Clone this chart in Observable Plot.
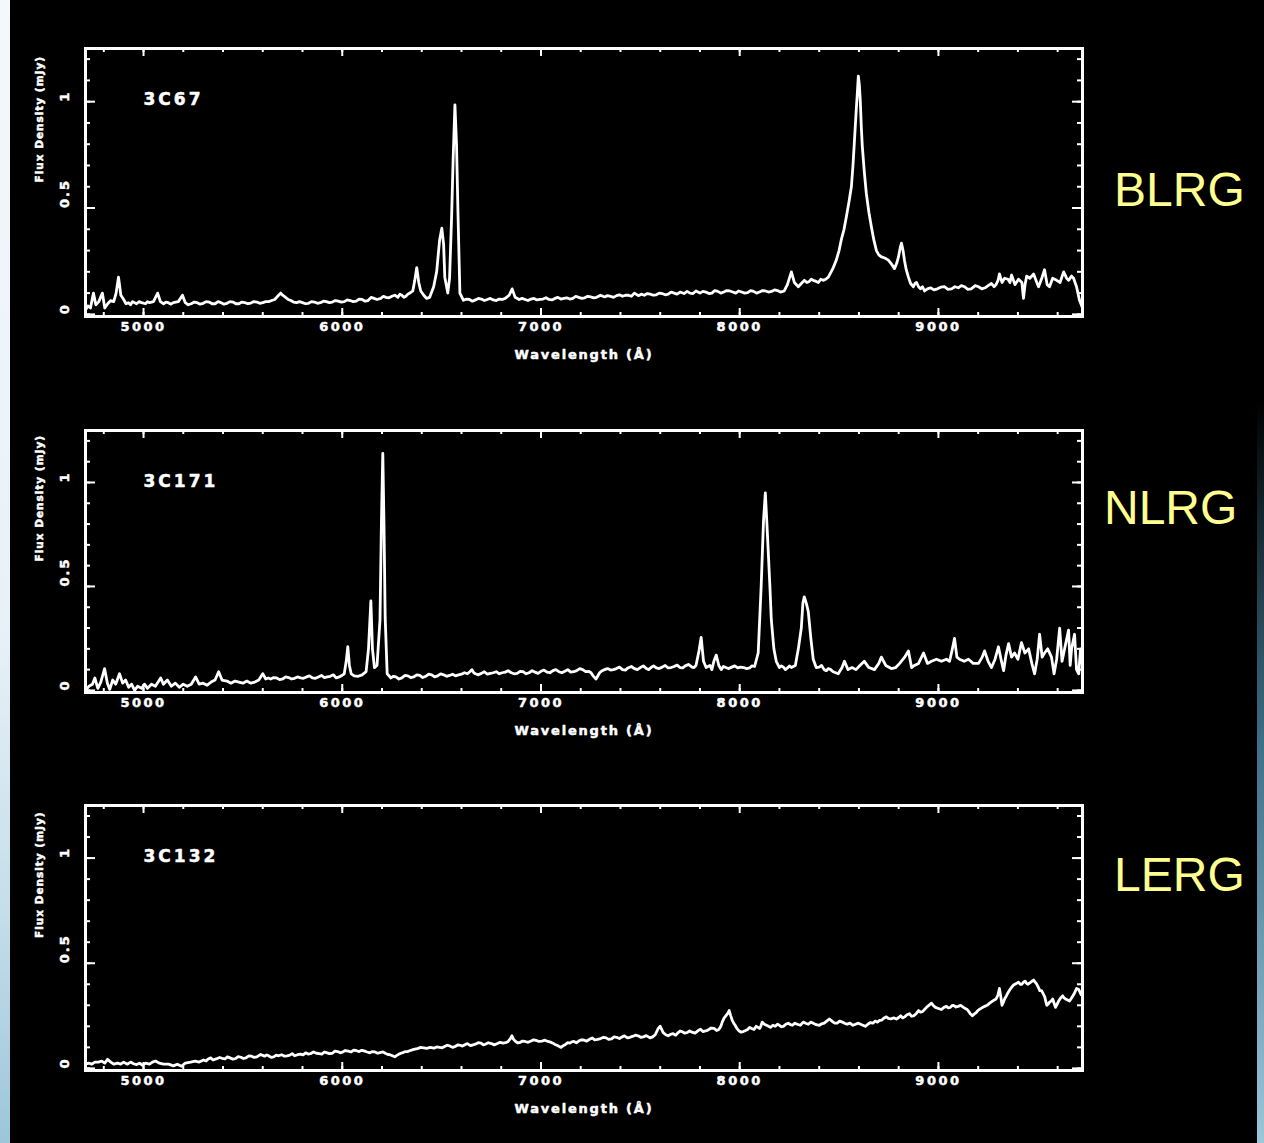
<!DOCTYPE html>
<html>
<head>
<meta charset="utf-8">
<script src="https://cdn.jsdelivr.net/npm/d3@7"></script>
<script src="https://cdn.jsdelivr.net/npm/@observablehq/plot@0.6"></script>
<style>
  html, body { margin: 0; padding: 0; background: #000; }
  body { width: 1264px; height: 1143px; position: relative; overflow: hidden; font-family: "DejaVu Sans", sans-serif; }
  #stripL { position: absolute; left: 0; top: 0; width: 10px; height: 1143px;
    background: linear-gradient(to bottom, #f4f8fc 0%, #e8f1f7 55%, #c4deea 80%, #9cc6da 100%); }
  #stripR { position: absolute; right: 0; top: 0; width: 7px; height: 1143px;
    background: linear-gradient(to bottom, #000 0%, #000 35%, #3d6f86 65%, #9cc6da 100%); }
  .panel { position: absolute; left: 0; }
  .cls { position: absolute; color: #ffff8f; font-family: "Liberation Sans", Arial, sans-serif;
    font-size: 48px; line-height: 48px; white-space: nowrap; }
</style>
</head>
<body>
<div id="stripL"></div>
<div id="stripR"></div>
<div id="root"></div>
<script>
// ---------------- data ----------------
const panelNames = ["3C67", "3C171", "3C132"];
const classLabels = ["BLRG", "NLRG", "LERG"];
const xLabel = "Wavelength (Å)";
const yLabel = "Flux Density (mJy)";
const xMajorTicks = [5000, 6000, 7000, 8000, 9000];
const xTickLabels = ["5000", "6000", "7000", "8000", "9000"];
const xMinorTicks = [4800, 5000, 5200, 5400, 5600, 5800, 6000, 6200, 6400, 6600, 6800, 7000, 7200, 7400, 7600, 7800, 8000, 8200, 8400, 8600, 8800, 9000, 9200, 9400, 9600];
const yMajorTicks = [0, 0.5, 1];
const yTickLabels = ["0", "0.5", "1"];
const yMinorTicks = [0, 0.1, 0.2, 0.3, 0.4, 0.5, 0.6, 0.7, 0.8, 0.9, 1.0, 1.1, 1.2];
const xDomain = [4708, 9725];
const yDomain = [-0.01, 1.25];

// 3C67 (BLRG): [wavelength Å, flux density mJy]
const spec3C67 = [[4708,0.02],[4720,0.04],[4733,0.03],[4748,0.10],[4760,0.045],[4775,0.06],[4793,0.10],[4805,0.03],[4820,0.05],[4834,0.065],[4850,0.06],[4862,0.10],[4874,0.175],[4886,0.09],[4900,0.07],[4912,0.05],[4924,0.055],[4935,0.045],[4945,0.06],[4965,0.05],[4978,0.06],[4990,0.055],[5010,0.05],[5020,0.06],[5030,0.055],[5050,0.06],[5071,0.10],[5085,0.06],[5101,0.05],[5113,0.058],[5125,0.055],[5138,0.048],[5150,0.055],[5175,0.06],[5196,0.09],[5210,0.055],[5225,0.045],[5240,0.05],[5255,0.058],[5270,0.055],[5285,0.048],[5300,0.052],[5315,0.06],[5330,0.058],[5345,0.05],[5360,0.05],[5375,0.06],[5390,0.055],[5405,0.048],[5420,0.052],[5435,0.06],[5450,0.058],[5465,0.05],[5480,0.05],[5495,0.058],[5510,0.055],[5525,0.05],[5540,0.053],[5555,0.06],[5570,0.058],[5585,0.052],[5600,0.055],[5615,0.06],[5630,0.06],[5645,0.065],[5660,0.07],[5675,0.085],[5690,0.10],[5700,0.09],[5715,0.08],[5728,0.07],[5741,0.065],[5755,0.058],[5770,0.055],[5785,0.06],[5800,0.055],[5815,0.05],[5830,0.052],[5845,0.06],[5860,0.058],[5875,0.052],[5890,0.055],[5905,0.062],[5920,0.06],[5935,0.055],[5950,0.058],[5965,0.065],[5980,0.062],[5995,0.058],[6010,0.06],[6025,0.068],[6040,0.065],[6055,0.06],[6070,0.062],[6085,0.072],[6100,0.07],[6115,0.062],[6130,0.065],[6145,0.08],[6160,0.075],[6175,0.07],[6194,0.075],[6207,0.085],[6220,0.08],[6235,0.078],[6250,0.085],[6265,0.09],[6280,0.08],[6290,0.095],[6300,0.09],[6310,0.08],[6320,0.085],[6330,0.095],[6340,0.10],[6355,0.11],[6365,0.16],[6375,0.22],[6385,0.15],[6395,0.11],[6410,0.09],[6425,0.075],[6440,0.08],[6460,0.13],[6475,0.2],[6490,0.35],[6501,0.405],[6510,0.33],[6516,0.175],[6531,0.10],[6540,0.17],[6550,0.45],[6558,0.73],[6567,0.985],[6575,0.8],[6582,0.49],[6592,0.10],[6610,0.066],[6625,0.072],[6640,0.07],[6655,0.062],[6670,0.068],[6685,0.075],[6700,0.072],[6715,0.065],[6730,0.07],[6745,0.075],[6760,0.068],[6775,0.065],[6790,0.072],[6805,0.07],[6820,0.075],[6840,0.09],[6855,0.12],[6870,0.08],[6890,0.07],[6905,0.075],[6920,0.07],[6935,0.065],[6950,0.072],[6965,0.075],[6980,0.068],[6995,0.07],[7010,0.072],[7025,0.078],[7040,0.07],[7055,0.068],[7070,0.075],[7085,0.08],[7100,0.072],[7115,0.075],[7130,0.078],[7145,0.072],[7160,0.075],[7175,0.085],[7190,0.08],[7205,0.075],[7220,0.078],[7235,0.085],[7250,0.082],[7265,0.078],[7280,0.08],[7300,0.09],[7320,0.082],[7335,0.088],[7350,0.085],[7365,0.08],[7380,0.088],[7395,0.092],[7410,0.085],[7425,0.09],[7440,0.09],[7455,0.085],[7470,0.1],[7490,0.088],[7505,0.095],[7520,0.09],[7535,0.098],[7550,0.095],[7565,0.09],[7580,0.092],[7595,0.1],[7610,0.098],[7625,0.092],[7640,0.095],[7655,0.105],[7670,0.1],[7685,0.095],[7700,0.105],[7720,0.098],[7735,0.108],[7750,0.1],[7765,0.098],[7780,0.11],[7800,0.1],[7815,0.108],[7830,0.105],[7845,0.098],[7860,0.1],[7875,0.112],[7890,0.108],[7905,0.1],[7920,0.105],[7935,0.112],[7950,0.11],[7965,0.105],[7980,0.1],[7995,0.11],[8010,0.105],[8025,0.1],[8040,0.102],[8055,0.112],[8070,0.108],[8085,0.1],[8100,0.105],[8115,0.112],[8130,0.11],[8145,0.105],[8160,0.108],[8175,0.115],[8190,0.112],[8205,0.105],[8224,0.11],[8240,0.14],[8260,0.20],[8275,0.15],[8295,0.13],[8310,0.145],[8325,0.16],[8338,0.15],[8350,0.155],[8360,0.165],[8370,0.16],[8385,0.155],[8396,0.15],[8408,0.165],[8420,0.16],[8433,0.165],[8446,0.175],[8460,0.2],[8471,0.22],[8486,0.255],[8500,0.3],[8511,0.35],[8525,0.4],[8537,0.46],[8550,0.53],[8562,0.60],[8570,0.7],[8577,0.81],[8587,0.97],[8592,1.04],[8597,1.12],[8602,1.08],[8607,1.0],[8612,0.88],[8617,0.79],[8627,0.67],[8637,0.57],[8650,0.48],[8663,0.41],[8675,0.35],[8688,0.30],[8700,0.28],[8713,0.27],[8730,0.265],[8748,0.255],[8765,0.235],[8779,0.215],[8790,0.24],[8799,0.27],[8807,0.31],[8814,0.335],[8822,0.3],[8829,0.255],[8838,0.21],[8849,0.175],[8860,0.145],[8874,0.13],[8882,0.145],[8890,0.15],[8900,0.13],[8910,0.12],[8920,0.13],[8930,0.11],[8945,0.12],[8960,0.125],[8978,0.115],[8995,0.12],[9012,0.128],[9030,0.13],[9048,0.118],[9066,0.12],[9083,0.13],[9100,0.125],[9115,0.135],[9131,0.13],[9148,0.118],[9165,0.12],[9185,0.135],[9202,0.13],[9218,0.12],[9235,0.125],[9250,0.135],[9267,0.145],[9280,0.13],[9290,0.14],[9300,0.16],[9307,0.19],[9320,0.15],[9333,0.17],[9350,0.165],[9360,0.15],[9368,0.185],[9385,0.14],[9403,0.165],[9420,0.15],[9428,0.075],[9436,0.14],[9444,0.18],[9460,0.17],[9479,0.19],[9495,0.15],[9504,0.13],[9520,0.17],[9534,0.21],[9547,0.14],[9559,0.13],[9575,0.17],[9595,0.16],[9612,0.15],[9630,0.20],[9645,0.17],[9655,0.16],[9670,0.18],[9680,0.17],[9695,0.13],[9710,0.066],[9725,0.03]];

// 3C171 (NLRG)
const spec3C171 = [[4708,0.0],[4725,0.02],[4743,0.03],[4755,0.06],[4770,0.01],[4785,0.04],[4804,0.105],[4818,0.035],[4830,0.005],[4845,0.05],[4860,0.03],[4879,0.08],[4895,0.035],[4910,0.05],[4925,0.015],[4940,0.03],[4955,0.0],[4970,0.02],[4990,0.01],[5005,0.03],[5020,0.01],[5040,0.03],[5060,0.02],[5086,0.06],[5100,0.03],[5120,0.05],[5140,0.02],[5160,0.035],[5180,0.015],[5200,0.03],[5220,0.02],[5240,0.03],[5262,0.065],[5280,0.03],[5300,0.035],[5320,0.025],[5340,0.04],[5360,0.05],[5378,0.09],[5395,0.05],[5420,0.045],[5440,0.035],[5460,0.045],[5480,0.04],[5500,0.035],[5520,0.045],[5540,0.035],[5560,0.04],[5580,0.05],[5600,0.08],[5615,0.055],[5628,0.06],[5640,0.055],[5655,0.062],[5670,0.06],[5685,0.052],[5700,0.055],[5715,0.065],[5730,0.062],[5745,0.055],[5760,0.058],[5775,0.065],[5790,0.06],[5805,0.058],[5820,0.065],[5835,0.07],[5850,0.06],[5865,0.058],[5880,0.065],[5895,0.072],[5910,0.062],[5925,0.065],[5940,0.068],[5955,0.075],[5970,0.06],[5985,0.065],[5995,0.07],[6010,0.08],[6020,0.14],[6028,0.21],[6036,0.12],[6045,0.08],[6060,0.07],[6080,0.068],[6100,0.075],[6120,0.09],[6132,0.2],[6144,0.43],[6152,0.2],[6162,0.11],[6175,0.12],[6190,0.34],[6197,0.8],[6204,1.14],[6210,0.8],[6216,0.35],[6226,0.08],[6245,0.06],[6258,0.068],[6270,0.065],[6285,0.055],[6300,0.06],[6315,0.072],[6330,0.07],[6345,0.062],[6360,0.065],[6375,0.075],[6390,0.072],[6405,0.062],[6420,0.068],[6435,0.078],[6450,0.075],[6465,0.065],[6480,0.07],[6495,0.08],[6510,0.075],[6525,0.068],[6540,0.072],[6555,0.078],[6570,0.07],[6585,0.075],[6600,0.078],[6615,0.085],[6630,0.08],[6642,0.09],[6652,0.10],[6662,0.085],[6670,0.08],[6685,0.075],[6700,0.082],[6715,0.09],[6730,0.078],[6745,0.082],[6760,0.085],[6775,0.09],[6790,0.08],[6805,0.085],[6820,0.088],[6835,0.095],[6850,0.085],[6865,0.08],[6880,0.082],[6895,0.092],[6910,0.09],[6925,0.08],[6940,0.085],[6955,0.095],[6970,0.088],[6985,0.082],[7000,0.092],[7015,0.098],[7030,0.088],[7045,0.085],[7060,0.095],[7075,0.1],[7090,0.09],[7105,0.085],[7120,0.092],[7135,0.1],[7150,0.088],[7165,0.09],[7180,0.095],[7195,0.105],[7210,0.1],[7225,0.09],[7240,0.092],[7252,0.085],[7262,0.07],[7277,0.055],[7295,0.085],[7308,0.095],[7320,0.1],[7335,0.105],[7350,0.098],[7365,0.1],[7380,0.105],[7395,0.112],[7410,0.1],[7425,0.098],[7438,0.108],[7455,0.115],[7470,0.105],[7485,0.1],[7500,0.11],[7515,0.118],[7530,0.105],[7542,0.1],[7554,0.11],[7567,0.118],[7580,0.108],[7595,0.105],[7610,0.112],[7625,0.12],[7640,0.108],[7655,0.11],[7670,0.115],[7685,0.122],[7700,0.11],[7713,0.108],[7726,0.118],[7742,0.125],[7760,0.112],[7770,0.11],[7780,0.12],[7795,0.19],[7806,0.255],[7818,0.14],[7831,0.11],[7850,0.12],[7860,0.1],[7870,0.14],[7882,0.17],[7895,0.12],[7907,0.10],[7918,0.115],[7930,0.11],[7945,0.105],[7960,0.112],[7975,0.118],[7990,0.108],[8005,0.112],[8020,0.11],[8035,0.105],[8050,0.108],[8062,0.118],[8075,0.115],[8093,0.18],[8108,0.50],[8120,0.82],[8129,0.95],[8137,0.8],[8144,0.66],[8152,0.5],[8159,0.34],[8172,0.2],[8184,0.14],[8200,0.11],[8210,0.118],[8220,0.112],[8230,0.1],[8240,0.108],[8250,0.118],[8260,0.11],[8280,0.12],[8295,0.2],[8310,0.3],[8318,0.42],[8325,0.45],[8335,0.42],[8345,0.38],[8358,0.25],[8370,0.15],[8385,0.11],[8400,0.112],[8412,0.12],[8425,0.1],[8436,0.095],[8446,0.105],[8458,0.1],[8470,0.09],[8483,0.085],[8496,0.08],[8515,0.11],[8527,0.14],[8545,0.1],[8565,0.11],[8585,0.1],[8605,0.12],[8627,0.14],[8650,0.11],[8678,0.1],[8700,0.13],[8713,0.16],[8735,0.12],[8763,0.105],[8785,0.11],[8805,0.13],[8830,0.16],[8849,0.19],[8865,0.11],[8879,0.12],[8900,0.13],[8925,0.18],[8945,0.13],[8965,0.14],[8990,0.15],[9015,0.14],[9040,0.15],[9056,0.14],[9068,0.19],[9081,0.25],[9093,0.16],[9106,0.15],[9130,0.14],[9151,0.15],[9175,0.13],[9202,0.13],[9220,0.16],[9232,0.19],[9250,0.14],[9267,0.11],[9285,0.15],[9302,0.21],[9315,0.15],[9328,0.095],[9340,0.17],[9353,0.225],[9368,0.16],[9383,0.18],[9400,0.15],[9418,0.23],[9435,0.18],[9454,0.2],[9470,0.13],[9484,0.08],[9497,0.15],[9509,0.27],[9522,0.16],[9534,0.18],[9550,0.2],[9569,0.16],[9582,0.08],[9595,0.15],[9610,0.30],[9622,0.14],[9635,0.2],[9655,0.29],[9663,0.12],[9670,0.2],[9685,0.27],[9695,0.1],[9706,0.08],[9715,0.2],[9725,0.12]];

// 3C132 (LERG)
const spec3C132 = [[4708,0.02],[4725,0.025],[4740,0.02],[4755,0.03],[4773,0.03],[4790,0.035],[4805,0.025],[4819,0.043],[4835,0.03],[4850,0.02],[4869,0.025],[4885,0.02],[4900,0.03],[4918,0.02],[4935,0.03],[4950,0.022],[4965,0.018],[4980,0.025],[4995,0.015],[5010,0.025],[5030,0.02],[5045,0.03],[5060,0.035],[5080,0.025],[5100,0.02],[5126,0.02],[5150,0.012],[5170,0.02],[5191,0.01],[5210,0.025],[5237,0.03],[5260,0.035],[5280,0.03],[5302,0.04],[5315,0.035],[5325,0.045],[5338,0.05],[5350,0.04],[5365,0.045],[5383,0.052],[5395,0.048],[5410,0.045],[5422,0.055],[5435,0.05],[5450,0.044],[5463,0.047],[5476,0.056],[5490,0.053],[5503,0.047],[5515,0.05],[5530,0.06],[5544,0.058],[5557,0.052],[5570,0.055],[5589,0.066],[5600,0.062],[5610,0.058],[5620,0.064],[5630,0.06],[5642,0.052],[5655,0.055],[5668,0.063],[5680,0.06],[5695,0.065],[5710,0.058],[5723,0.06],[5736,0.063],[5748,0.07],[5760,0.06],[5775,0.065],[5790,0.068],[5803,0.064],[5816,0.074],[5828,0.068],[5840,0.07],[5855,0.078],[5870,0.072],[5884,0.07],[5897,0.068],[5910,0.078],[5920,0.075],[5935,0.07],[5950,0.072],[5963,0.082],[5977,0.08],[5990,0.074],[6000,0.077],[6015,0.085],[6030,0.082],[6045,0.078],[6058,0.087],[6072,0.084],[6085,0.08],[6098,0.086],[6110,0.083],[6125,0.078],[6139,0.074],[6152,0.08],[6165,0.078],[6178,0.072],[6190,0.075],[6205,0.078],[6219,0.071],[6230,0.066],[6240,0.065],[6252,0.06],[6264,0.055],[6275,0.062],[6285,0.068],[6295,0.072],[6305,0.075],[6318,0.08],[6330,0.08],[6345,0.086],[6360,0.09],[6378,0.094],[6395,0.10],[6410,0.098],[6425,0.095],[6443,0.1],[6461,0.096],[6475,0.102],[6490,0.1],[6503,0.098],[6515,0.104],[6528,0.11],[6541,0.107],[6555,0.1],[6570,0.105],[6583,0.112],[6595,0.11],[6605,0.106],[6617,0.112],[6630,0.118],[6645,0.108],[6658,0.112],[6670,0.115],[6684,0.122],[6698,0.12],[6710,0.112],[6720,0.115],[6735,0.122],[6750,0.118],[6765,0.112],[6778,0.117],[6795,0.124],[6810,0.12],[6822,0.122],[6835,0.128],[6845,0.14],[6854,0.155],[6862,0.138],[6870,0.13],[6882,0.122],[6894,0.123],[6907,0.13],[6920,0.128],[6935,0.124],[6950,0.13],[6963,0.136],[6975,0.133],[6990,0.128],[7005,0.13],[7020,0.134],[7035,0.128],[7048,0.125],[7060,0.12],[7070,0.114],[7080,0.11],[7090,0.105],[7101,0.10],[7112,0.108],[7125,0.115],[7135,0.122],[7145,0.12],[7155,0.126],[7166,0.128],[7178,0.122],[7190,0.13],[7203,0.136],[7215,0.135],[7230,0.13],[7247,0.14],[7258,0.145],[7270,0.135],[7285,0.138],[7300,0.142],[7315,0.148],[7328,0.145],[7340,0.138],[7355,0.14],[7368,0.15],[7380,0.148],[7395,0.142],[7408,0.15],[7420,0.155],[7435,0.145],[7448,0.148],[7460,0.152],[7475,0.158],[7489,0.155],[7502,0.148],[7515,0.15],[7530,0.156],[7549,0.145],[7562,0.15],[7575,0.16],[7590,0.19],[7600,0.2],[7615,0.17],[7628,0.16],[7640,0.155],[7652,0.162],[7665,0.165],[7678,0.158],[7690,0.17],[7700,0.178],[7710,0.175],[7722,0.168],[7735,0.17],[7748,0.178],[7760,0.172],[7775,0.168],[7791,0.18],[7803,0.186],[7815,0.175],[7828,0.178],[7840,0.182],[7856,0.192],[7872,0.19],[7884,0.18],[7895,0.185],[7905,0.2],[7912,0.22],[7922,0.24],[7930,0.25],[7940,0.262],[7947,0.275],[7955,0.25],[7962,0.23],[7970,0.215],[7977,0.205],[7986,0.19],[7995,0.18],[8006,0.172],[8018,0.175],[8030,0.18],[8040,0.185],[8050,0.195],[8060,0.19],[8072,0.185],[8083,0.2],[8092,0.195],[8100,0.19],[8106,0.2],[8113,0.22],[8124,0.21],[8135,0.205],[8145,0.2],[8155,0.195],[8167,0.205],[8179,0.2],[8190,0.21],[8200,0.205],[8210,0.198],[8220,0.2],[8232,0.21],[8244,0.215],[8255,0.208],[8265,0.205],[8278,0.215],[8290,0.21],[8305,0.205],[8320,0.22],[8332,0.215],[8345,0.21],[8358,0.22],[8370,0.215],[8385,0.208],[8401,0.205],[8413,0.212],[8425,0.215],[8438,0.225],[8451,0.235],[8460,0.228],[8470,0.22],[8480,0.215],[8490,0.215],[8503,0.225],[8517,0.22],[8528,0.215],[8540,0.21],[8555,0.215],[8570,0.205],[8583,0.21],[8597,0.215],[8608,0.21],[8620,0.205],[8632,0.2],[8645,0.21],[8658,0.218],[8670,0.215],[8682,0.225],[8693,0.22],[8704,0.228],[8715,0.23],[8727,0.24],[8738,0.245],[8748,0.238],[8760,0.235],[8775,0.24],[8789,0.235],[8800,0.242],[8810,0.25],[8820,0.24],[8830,0.245],[8842,0.255],[8854,0.26],[8864,0.248],[8875,0.25],[8888,0.26],[8900,0.275],[8910,0.268],[8920,0.27],[8930,0.28],[8940,0.29],[8952,0.3],[8965,0.31],[8975,0.298],[8985,0.29],[9000,0.285],[9015,0.28],[9028,0.29],[9040,0.295],[9050,0.288],[9060,0.29],[9068,0.298],[9076,0.3],[9088,0.292],[9100,0.295],[9112,0.3],[9126,0.29],[9135,0.285],[9145,0.28],[9153,0.27],[9160,0.26],[9166,0.255],[9171,0.25],[9180,0.258],[9190,0.265],[9198,0.275],[9205,0.28],[9214,0.285],[9222,0.29],[9233,0.295],[9245,0.3],[9258,0.31],[9272,0.32],[9281,0.325],[9290,0.33],[9300,0.35],[9307,0.38],[9314,0.34],[9320,0.3],[9327,0.315],[9333,0.33],[9342,0.345],[9350,0.36],[9360,0.375],[9368,0.385],[9376,0.395],[9385,0.4],[9394,0.405],[9403,0.41],[9412,0.4],[9420,0.4],[9428,0.41],[9436,0.415],[9443,0.405],[9449,0.40],[9457,0.405],[9465,0.41],[9472,0.415],[9479,0.42],[9487,0.41],[9495,0.4],[9503,0.385],[9510,0.37],[9519,0.37],[9527,0.355],[9535,0.34],[9540,0.32],[9545,0.30],[9552,0.305],[9559,0.315],[9567,0.32],[9575,0.33],[9582,0.31],[9589,0.29],[9597,0.305],[9605,0.32],[9615,0.335],[9625,0.345],[9632,0.335],[9640,0.33],[9650,0.325],[9660,0.32],[9670,0.335],[9680,0.35],[9688,0.365],[9695,0.38],[9706,0.375],[9718,0.35],[9730,0.36]];

const spectra = [spec3C67, spec3C171, spec3C132];

// ---------------- layout ----------------
const layout = [
  {frameTop: 48, frameH: 268, cls: {left: 1114, top: 166}},
  {frameTop: 430, frameH: 262, cls: {left: 1104, top: 484}},
  {frameTop: 805, frameH: 265, cls: {left: 1114, top: 851}}
];
const W = 1100, ML = 85, MR = 18, MT = 30, MB = 70;
const frameW = W - ML - MR;
const FONT = "DejaVu Sans";
const txt = {fill: "white", stroke: "white", strokeWidth: 0.5, fontWeight: "bold"};

const root = document.getElementById("root");

spectra.forEach((spec, i) => {
  const {frameTop, frameH, cls} = layout[i];
  const svg = Plot.plot({
    width: W,
    height: frameH + MT + MB,
    marginLeft: ML, marginRight: MR, marginTop: MT, marginBottom: MB,
    x: {domain: xDomain, axis: null},
    y: {domain: yDomain, axis: null},
    style: {background: "transparent", color: "white", fontFamily: FONT, fontWeight: "bold", overflow: "visible"},
    marks: [
      // inward ticks: bottom / top
      Plot.tickX(xMinorTicks, {x: d => d, stroke: "white", strokeWidth: 2, insetTop: frameH - 4}),
      Plot.tickX(xMajorTicks, {x: d => d, stroke: "white", strokeWidth: 2, insetTop: frameH - 8}),
      Plot.tickX(xMinorTicks, {x: d => d, stroke: "white", strokeWidth: 2, insetBottom: frameH - 4}),
      Plot.tickX(xMajorTicks, {x: d => d, stroke: "white", strokeWidth: 2, insetBottom: frameH - 8}),
      // inward ticks: left / right
      Plot.tickY(yMinorTicks, {y: d => d, stroke: "white", strokeWidth: 2, insetRight: frameW - 5}),
      Plot.tickY(yMajorTicks, {y: d => d, stroke: "white", strokeWidth: 2, insetRight: frameW - 10}),
      Plot.tickY(yMinorTicks, {y: d => d, stroke: "white", strokeWidth: 2, insetLeft: frameW - 5}),
      Plot.tickY(yMajorTicks, {y: d => d, stroke: "white", strokeWidth: 2, insetLeft: frameW - 10}),
      // spectrum
      Plot.line(spec, {x: d => d[0], y: d => d[1], stroke: "white", strokeWidth: 2.8, strokeLinejoin: "round", clip: true}),
      Plot.frame({stroke: "white", strokeWidth: 3}),
      // tick labels
      Plot.text(xMajorTicks, {x: d => d, text: (d, j) => xTickLabels[j], frameAnchor: "bottom", dy: 14, fontSize: 13, ...txt}),
      Plot.text(yMajorTicks, {y: d => d, text: (d, j) => yTickLabels[j], frameAnchor: "left", dx: -21, rotate: -90, fontSize: 13, ...txt}),
      // axis labels
      Plot.text([xLabel], {text: d => d, frameAnchor: "bottom", dy: 42, fontSize: 13, ...txt}),
      Plot.text([yLabel], {text: d => d, frameAnchor: "left", dx: -46, rotate: -90, fontSize: 10.5, ...txt}),
      // panel name
      Plot.text([panelNames[i]], {text: d => d, frameAnchor: "top-left", dx: 58, dy: 44, textAnchor: "start", lineAnchor: "top", fontSize: 17, ...txt})
    ]
  });
  // letter spacing to mimic the wide plotting font
  d3.select(svg).selectAll("text").each(function () {
    const t = this.textContent;
    if (xTickLabels.includes(t)) this.setAttribute("letter-spacing", "2.5");
    else if (yTickLabels.includes(t)) this.setAttribute("letter-spacing", "2");
    else if (t === xLabel) this.setAttribute("letter-spacing", "1.8");
    else if (t === yLabel) this.setAttribute("letter-spacing", "1");
    else if (panelNames.includes(t)) this.setAttribute("letter-spacing", "3");
  });
  const wrap = document.createElement("div");
  wrap.className = "panel";
  wrap.style.top = (frameTop - MT) + "px";
  wrap.appendChild(svg);
  root.appendChild(wrap);

  const lab = document.createElement("div");
  lab.className = "cls";
  lab.style.left = cls.left + "px";
  lab.style.top = cls.top + "px";
  lab.textContent = classLabels[i];
  root.appendChild(lab);
});
</script>
</body>
</html>
